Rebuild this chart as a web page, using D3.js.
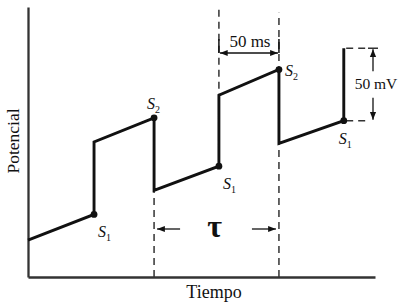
<!DOCTYPE html>
<html><head><meta charset="utf-8">
<script src="https://cdn.jsdelivr.net/npm/d3@7"></script>
<style>body{margin:0;background:#fff}svg{display:block}</style>
</head><body>
<svg id="c" width="407" height="307"></svg>
<script>
// time in ms, potential in mV (relative)
const times = [0, 55, 55, 105, 105, 159, 159, 209, 209, 263, 263];
const potentials = [26, 44, 95, 112, 61, 78, 128, 146, 94, 110, 161];
const stimLabels = [
  {i:1, name:"S", sub:"1"}, {i:3, name:"S", sub:"2"},
  {i:5, name:"S", sub:"1"}, {i:7, name:"S", sub:"2"}, {i:9, name:"S", sub:"1"}
];
const axisTitles = {x:"Tiempo", y:"Potencial"};
const intervalLabel = "50 ms";
const amplitudeLabel = "50 mV";
const periodLabel = "τ";

const svg = d3.select("#c");
const x = d3.scaleLinear().domain([0, 289]).range([28, 375]);
const y = d3.scaleLinear().domain([0, 190]).range([277, 7]);
const serif = "'Liberation Serif','DejaVu Serif',serif";
const ink = "#111";

// dashed guides
const dash = "7,5";
function vdash(t, v0, v1){
  svg.append("line").attr("x1",x(t)).attr("x2",x(t)).attr("y1",y(v0)).attr("y2",y(v1))
    .attr("stroke","#333").attr("stroke-width",1.5).attr("stroke-dasharray",dash);
}
vdash(times[3], 0, potentials[4]);
vdash(times[5], 188, potentials[6]);
vdash(times[7], 0, 186);
function hdash(v, t0, t1){
  svg.append("line").attr("x1",x(t0)).attr("x2",x(t1)).attr("y1",y(v)).attr("y2",y(v))
    .attr("stroke","#333").attr("stroke-width",1.5).attr("stroke-dasharray",dash);
}
hdash(potentials[10], times[9]+2, 282);
hdash(potentials[9], times[9]+2, 282);

// axes
svg.append("g").attr("transform",`translate(0,${y(0)})`)
  .call(d3.axisBottom(x).tickValues([]).tickSizeOuter(0))
  .call(g=>g.select(".domain").attr("stroke","#333").attr("stroke-width",2.3));
svg.append("g").attr("transform",`translate(${x(0)},0)`)
  .call(d3.axisLeft(y).tickValues([]).tickSizeOuter(0))
  .call(g=>g.select(".domain").attr("stroke","#333").attr("stroke-width",2.3));

// waveform
const pts = times.map((t,i)=>[t, potentials[i]]);
svg.append("path").datum(pts)
  .attr("d", d3.line().x(d=>x(d[0])).y(d=>y(d[1])))
  .attr("fill","none").attr("stroke",ink).attr("stroke-width",2.9).attr("stroke-linejoin","miter");
svg.selectAll("circle.s").data(stimLabels).join("circle")
  .attr("cx",d=>x(times[d.i])).attr("cy",d=>y(potentials[d.i])).attr("r",3.4).attr("fill",ink);

// S labels
const lblOff = [[4,23],[-7,-9],[4,23],[6,6],[-5,23]];
stimLabels.forEach((d,k)=>{
  const t = svg.append("text").attr("x",x(times[d.i])+lblOff[k][0]).attr("y",y(potentials[d.i])+lblOff[k][1])
    .attr("font-family",serif).attr("font-size",16).attr("fill",ink);
  t.append("tspan").attr("font-style","italic").text(d.name);
  t.append("tspan").attr("font-size",10).attr("dy",4).text(d.sub);
});

// arrowheads
svg.append("defs").append("marker").attr("id","ah").attr("viewBox","0 0 10 10")
  .attr("refX",10).attr("refY",5).attr("markerWidth",6).attr("markerHeight",6).attr("orient","auto-start-reverse")
  .append("path").attr("d","M0,1 L10,5 L0,9 Z").attr("fill",ink);

// 50 ms interval
const yMs = 53;
svg.append("line").attr("x1",x(times[5])+1).attr("x2",x(times[7])-1).attr("y1",yMs).attr("y2",yMs)
  .attr("stroke",ink).attr("stroke-width",1.3).attr("marker-start","url(#ah)").attr("marker-end","url(#ah)");
svg.append("line").attr("x1",x(times[7])).attr("x2",x(times[7])).attr("y1",yMs-14).attr("y2",yMs)
  .attr("stroke",ink).attr("stroke-width",1.5);
svg.append("line").attr("x1",x(times[5])).attr("x2",x(times[5])).attr("y1",yMs-14).attr("y2",yMs)
  .attr("stroke",ink).attr("stroke-width",1.5);
svg.append("text").attr("x",(x(times[5])+x(times[7]))/2+1).attr("y",yMs-6).attr("text-anchor","middle")
  .attr("font-family",serif).attr("font-size",17).attr("fill",ink).text(intervalLabel);

// 50 mV amplitude
const xmv = 373;
svg.append("line").attr("x1",xmv-5).attr("x2",xmv+5).attr("y1",y(potentials[10])).attr("y2",y(potentials[10]))
  .attr("stroke",ink).attr("stroke-width",1.3);
svg.append("line").attr("x1",xmv).attr("x2",xmv).attr("y1",y(potentials[10])+1).attr("y2",y(potentials[10])+23)
  .attr("stroke",ink).attr("stroke-width",1.3).attr("marker-start","url(#ah)");
svg.append("line").attr("x1",xmv).attr("x2",xmv).attr("y1",y(potentials[9])-23).attr("y2",y(potentials[9])-1)
  .attr("stroke",ink).attr("stroke-width",1.3).attr("marker-end","url(#ah)");
svg.append("text").attr("x",376).attr("y",(y(potentials[10])+y(potentials[9]))/2+5).attr("text-anchor","middle")
  .attr("font-family",serif).attr("font-size",15.5).attr("fill",ink).text(amplitudeLabel);

// tau period
const yTau = 229;
svg.append("line").attr("x1",x(times[3])+26).attr("x2",x(times[3])+3).attr("y1",yTau).attr("y2",yTau)
  .attr("stroke",ink).attr("stroke-width",1.3).attr("marker-end","url(#ah)");
svg.append("line").attr("x1",x(times[7])-27).attr("x2",x(times[7])-3).attr("y1",yTau).attr("y2",yTau)
  .attr("stroke",ink).attr("stroke-width",1.3).attr("marker-end","url(#ah)");
svg.append("text").attr("x",(x(times[3])+x(times[7]))/2-2).attr("y",yTau+8).attr("text-anchor","middle")
  .attr("font-family",serif).attr("font-size",32).attr("font-weight","bold").attr("fill",ink).text(periodLabel);

// axis titles
svg.append("text").attr("x",214).attr("y",298).attr("text-anchor","middle")
  .attr("font-family",serif).attr("font-size",18).attr("fill",ink).text(axisTitles.x);
svg.append("text").attr("transform","translate(19,141) rotate(-90)").attr("text-anchor","middle")
  .attr("font-family",serif).attr("font-size",17.5).attr("fill",ink).text(axisTitles.y);
</script>
</body></html>
